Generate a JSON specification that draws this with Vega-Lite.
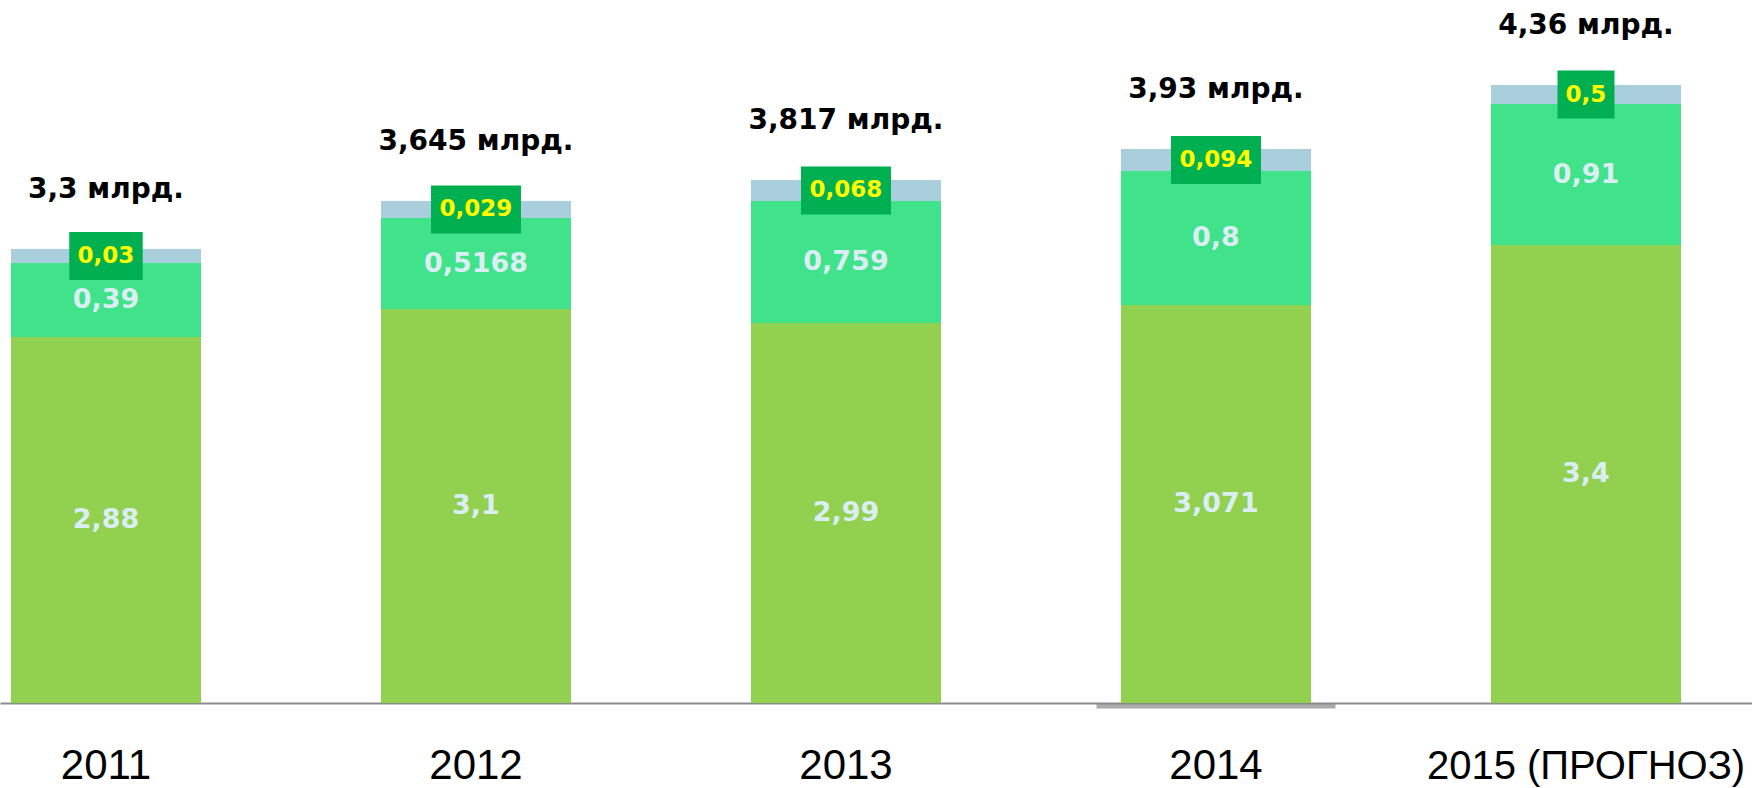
{
  "$schema": "https://vega.github.io/schema/vega-lite/v6.json",
  "width": 1752,
  "height": 703,
  "autosize": {"type": "none"},
  "padding": {"left": 0, "top": 0, "right": 0, "bottom": 85},
  "background": "white",
  "config": {"view": {"stroke": null}},
  "data": {
    "values": [
      {"year": "2011", "seg": "base", "value": 2.882, "label": "2,88"},
      {"year": "2011", "seg": "mid", "value": 0.583, "label": "0,39"},
      {"year": "2011", "seg": "top", "value": 0.110, "label": "0,03", "total": "3,3 млрд."},
      {"year": "2012", "seg": "base", "value": 3.102, "label": "3,1"},
      {"year": "2012", "seg": "mid", "value": 0.717, "label": "0,5168"},
      {"year": "2012", "seg": "top", "value": 0.134, "label": "0,029", "total": "3,645 млрд."},
      {"year": "2013", "seg": "base", "value": 2.992, "label": "2,99"},
      {"year": "2013", "seg": "mid", "value": 0.961, "label": "0,759"},
      {"year": "2013", "seg": "top", "value": 0.165, "label": "0,068", "total": "3,817 млрд."},
      {"year": "2014", "seg": "base", "value": 3.134, "label": "3,071"},
      {"year": "2014", "seg": "mid", "value": 1.055, "label": "0,8"},
      {"year": "2014", "seg": "top", "value": 0.173, "label": "0,094", "total": "3,93 млрд."},
      {"year": "2015 (ПРОГНОЗ)", "seg": "base", "value": 3.606, "label": "3,4"},
      {"year": "2015 (ПРОГНОЗ)", "seg": "mid", "value": 1.110, "label": "0,91"},
      {"year": "2015 (ПРОГНОЗ)", "seg": "top", "value": 0.150, "label": "0,5", "total": "4,36 млрд."}
    ]
  },
  "transform": [
    {"stack": "value", "groupby": ["year"], "sort": [{"field": "seg", "order": "ascending"}], "as": ["y0", "y1"]},
    {"calculate": "(datum.y0 + datum.y1) / 2", "as": "ymid"},
    {"calculate": "length(datum.label)", "as": "nchar"}
  ],
  "encoding": {
    "x": {
      "field": "year",
      "type": "nominal",
      "sort": null,
      "scale": {"paddingInner": 0.4865, "paddingOuter": 0.1108, "align": 0.134},
      "axis": {
        "title": null,
        "ticks": false,
        "tickSize": 0,
        "domainColor": "#8c8c8c",
        "domainWidth": 2,
        "labelAngle": 0,
        "labelFont": "Liberation Sans",
        "labelFontSize": {"condition": {"test": "length(datum.label) > 6", "value": 40}, "value": 42},
        "labelColor": "#000000",
        "labelBaseline": "alphabetic",
        "labelPadding": 75,
        "labelLimit": 0,
        "labelOverlap": false
      }
    }
  },
  "layer": [
    {
      "mark": {"type": "bar"},
      "encoding": {
        "y": {"field": "y0", "type": "quantitative", "scale": {"domain": [0, 5.5354], "nice": false, "zero": true}, "axis": null},
        "y2": {"field": "y1"},
        "color": {
          "field": "seg",
          "type": "nominal",
          "scale": {"domain": ["base", "mid", "top"], "range": ["#92d050", "#40e28a", "#a9cedc"]},
          "legend": null
        }
      }
    },
    {
      "data": {"values": [{"year": "2014"}]},
      "transform": [],
      "mark": {"type": "tick", "thickness": 5, "color": "#888888"},
      "encoding": {
        "y": {"datum": -0.024, "type": "quantitative"},
        "size": {"value": 239}
      }
    },
    {
      "transform": [{"filter": "datum.seg === 'top'"}],
      "mark": {"type": "tick", "thickness": 48, "color": "#00b050", "opacity": 1},
      "encoding": {
        "y": {"field": "ymid", "type": "quantitative"},
        "size": {"field": "nchar", "type": "quantitative", "scale": {"domain": [3, 5], "range": [57, 90], "zero": false}, "legend": null}
      }
    },
    {
      "transform": [{"filter": "datum.seg !== 'top'"}],
      "mark": {"type": "text", "font": "DejaVu Sans", "fontWeight": "bold", "fontSize": 27, "color": "#dbeef3", "baseline": "middle", "align": "center"},
      "encoding": {
        "y": {"field": "ymid", "type": "quantitative"},
        "text": {"field": "label"}
      }
    },
    {
      "transform": [{"filter": "datum.seg === 'top'"}],
      "mark": {"type": "text", "font": "DejaVu Sans", "fontWeight": "bold", "fontSize": 23, "color": "#ffff00", "baseline": "middle", "align": "center"},
      "encoding": {
        "y": {"field": "ymid", "type": "quantitative"},
        "text": {"field": "label"}
      }
    },
    {
      "transform": [{"filter": "datum.seg === 'top'"}],
      "mark": {"type": "text", "font": "DejaVu Sans", "fontWeight": "bold", "fontSize": 28, "color": "#000000", "baseline": "alphabetic", "align": "center", "dy": -51},
      "encoding": {
        "y": {"field": "y1", "type": "quantitative"},
        "text": {"field": "total"}
      }
    }
  ]
}
